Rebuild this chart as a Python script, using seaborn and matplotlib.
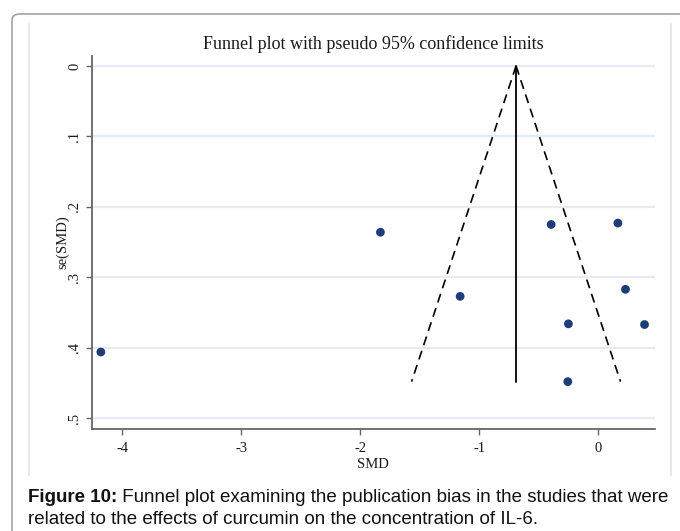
import matplotlib
matplotlib.use("Agg")
import matplotlib.pyplot as plt
from matplotlib.patches import FancyBboxPatch
from matplotlib.lines import Line2D
import seaborn as sns
import pandas as pd
import numpy as np

# ---- data ----
smd = [-4.18, -1.83, -1.16, -0.395, 0.166, 0.23, -0.25, 0.39, -0.255]
se_smd = [0.406, 0.236, 0.327, 0.225, 0.223, 0.317, 0.366, 0.367, 0.448]
pooled_smd = -0.69
max_se = 0.448
x_ticks = [-4, -3, -2, -1, 0]
y_ticks = [0, 0.1, 0.2, 0.3, 0.4, 0.5]
y_tick_labels = ["0", ".1", ".2", ".3", ".4", ".5"]
title = "Funnel plot with pseudo 95% confidence limits"
caption_bold = "Figure 10:"
caption_rest_1 = " Funnel plot examining the publication bias in the studies that were"
caption_line_2 = "related to the effects of curcumin on the concentration of IL-6."

sns.set_theme(style="white")
plt.rcParams["font.family"] = ["Liberation Serif", "DejaVu Serif"]

W, H = 680, 531
fig = plt.figure(figsize=(W / 100, H / 100), dpi=100)

def fx(px):
    return px / W

def fy(py):
    return 1 - py / H

# outer page frame (rounded, open on the right/bottom)
frame = FancyBboxPatch((fx(12), fy(560)), fx(720), (560 - 14) / H,
                       boxstyle="round,pad=0,rounding_size=0.012",
                       transform=fig.transFigure, fill=False,
                       edgecolor="#a3a3a3", linewidth=1.2, zorder=0)
fig.patches.append(frame)
# inner light panel edges
for xp in (29, 671):
    fig.add_artist(Line2D([fx(xp), fx(xp)], [fy(24), fy(475)],
                          transform=fig.transFigure, color="#e2e5ee", lw=1.3))

ax = fig.add_axes([fx(91.7), fy(428.7), fx(655 - 91.7), (428.7 - 55.7) / H])

df = pd.DataFrame({"SMD": smd, "se": se_smd})

# funnel
se_line = [0, max_se]
funnel = pd.DataFrame({
    "x": [pooled_smd, pooled_smd - 1.96 * max_se, np.nan, pooled_smd, pooled_smd + 1.96 * max_se],
    "y": [0, max_se, np.nan, 0, max_se],
})
ax.plot(funnel["x"], funnel["y"], color="black", lw=1.2, ls=(0, (5.5, 3.5)), zorder=2)
ax.plot([pooled_smd, pooled_smd], se_line, color="black", lw=1.3, zorder=2)

sns.scatterplot(data=df, x="SMD", y="se", ax=ax, color="#1e3d78", s=40,
                edgecolor="none", zorder=3)

ax.set_xlim(-4.257, 0.478)
ax.set_ylim(0.5148, -0.0145)

for yv in y_ticks:
    ax.axhline(yv, color="#e6ebf3", lw=1.6, zorder=1)

ax.set_xticks(x_ticks)
ax.set_xticklabels([str(v) for v in x_ticks])
ax.set_yticks(y_ticks)
ax.set_yticklabels(y_tick_labels, rotation=90, va="center")

for side in ("top", "right"):
    ax.spines[side].set_visible(False)
for side in ("left", "bottom"):
    ax.spines[side].set_color("#666666")
    ax.spines[side].set_linewidth(1.3)

ax.tick_params(axis="both", which="major", direction="out", length=4.5,
               width=1.0, color="#666666", labelsize=10.5, labelcolor="#1a1a1a",
               left=True, bottom=True)
ax.tick_params(axis="x", pad=5)
ax.tick_params(axis="y", pad=3)

ax.set_xlabel("SMD", fontsize=10.5, color="#1a1a1a", labelpad=2.5)
ax.set_ylabel("se(SMD)", fontsize=10.5, color="#1a1a1a", labelpad=-1)
ax.set_title(title, fontsize=13, color="#1a1a1a", pad=5)
ax.grid(False)

# caption
cap_kw = dict(transform=fig.transFigure, fontsize=13.5, family="Liberation Sans",
              color="#111111", va="center", ha="left")
t1 = fig.text(fx(28), fy(497), caption_bold, fontweight="bold", **cap_kw)
fig.canvas.draw()
bb = t1.get_window_extent()
fig.text(bb.x1 / W, fy(497), caption_rest_1, **cap_kw)
fig.text(fx(28), fy(519), caption_line_2, **cap_kw)

fig.savefig("out.png", dpi=100)
